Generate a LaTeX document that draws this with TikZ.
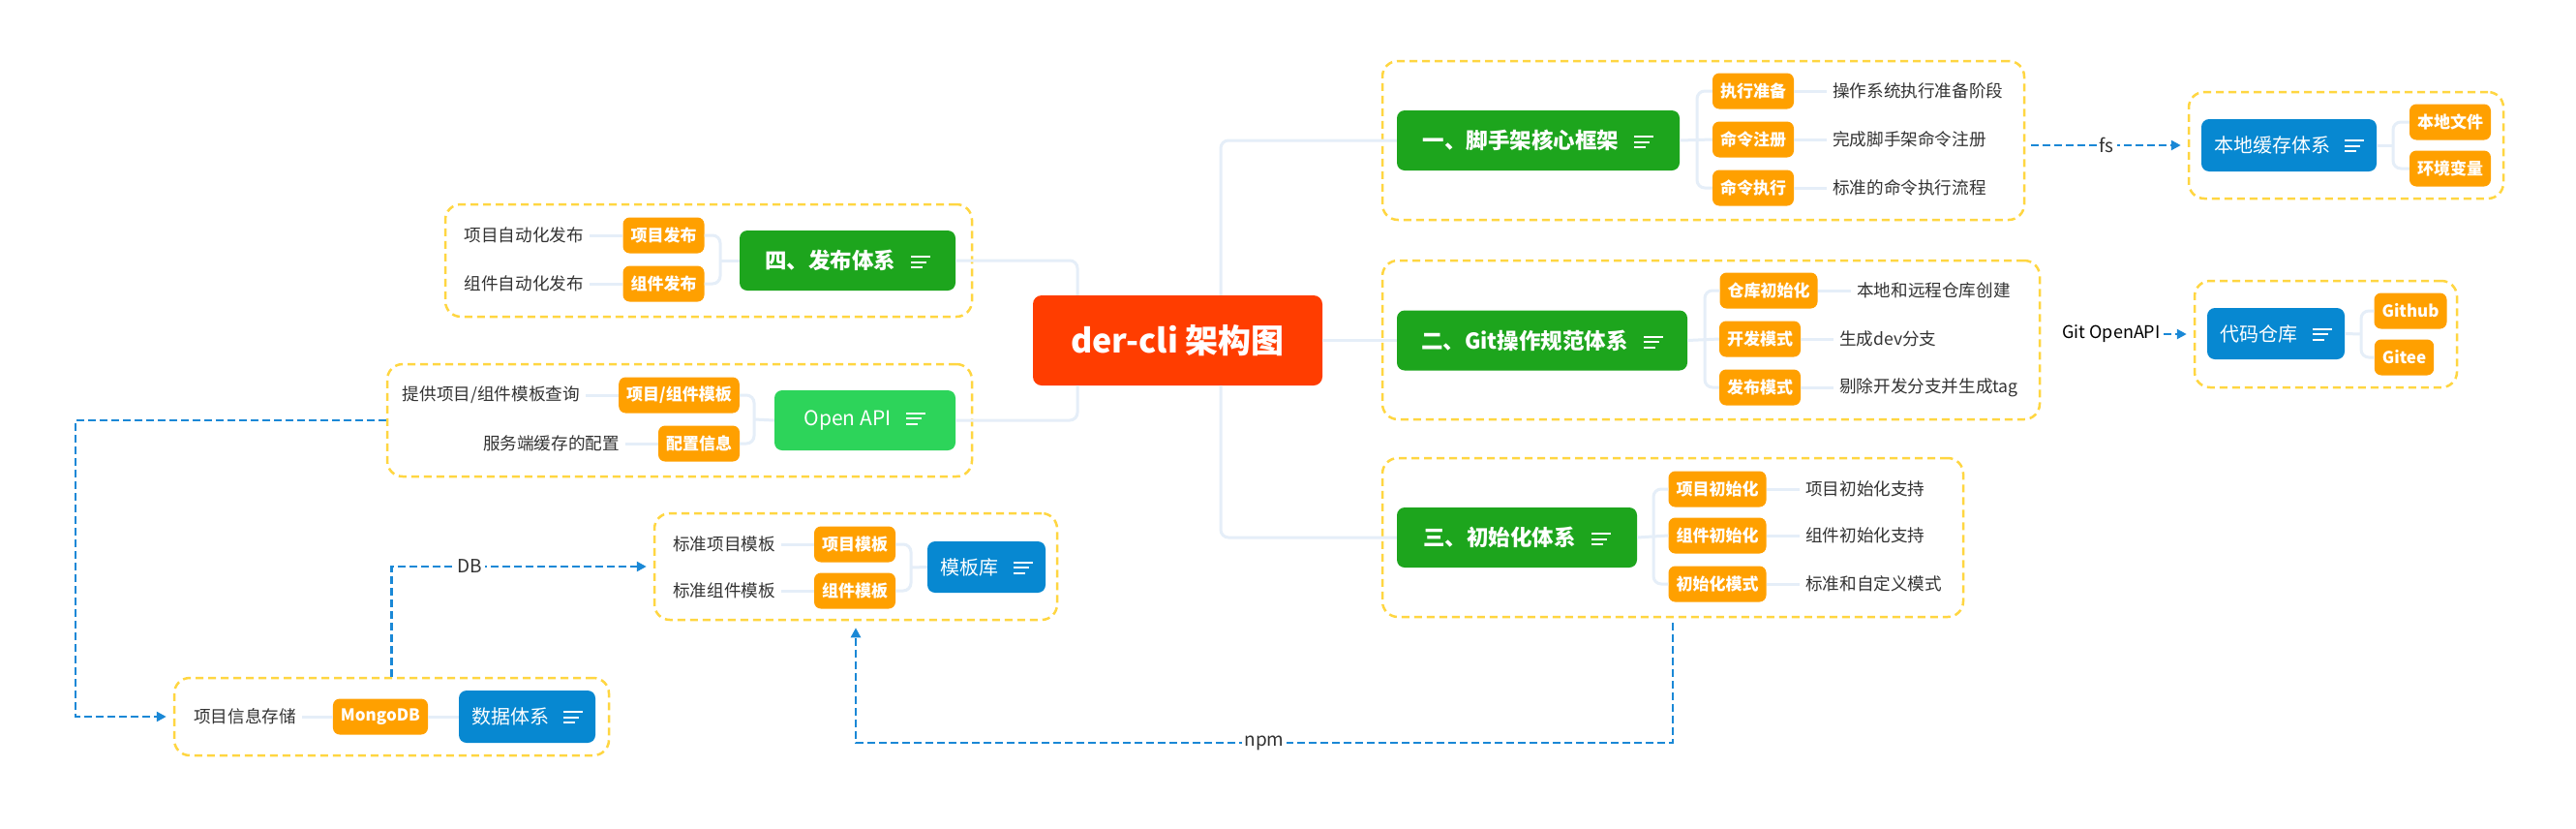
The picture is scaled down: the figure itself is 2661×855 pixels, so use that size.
\documentclass[tikz,border=0pt]{standalone}
\usepackage{fontspec}
\setmainfont{Noto Sans CJK SC}
\usetikzlibrary{arrows.meta,calc}
\definecolor{cred}{HTML}{FF3D00}
\definecolor{cgreen}{HTML}{1DA51D}
\definecolor{clgreen}{HTML}{2DD45A}
\definecolor{cblue}{HTML}{0788D1}
\definecolor{corange}{HTML}{FFA000}
\definecolor{cyel}{HTML}{FFD641}
\definecolor{clink}{HTML}{E5EEF8}
\definecolor{cflow}{HTML}{1A88D6}
\definecolor{ctext}{HTML}{333333}
\newcommand\mIcon{\raisebox{0.5pt}{\vbox{\offinterlineskip\hbox{\rule{20pt}{2pt}}\vskip3.5pt\hbox{\rule{16pt}{2pt}}\vskip3.5pt\hbox{\rule{12pt}{2pt}}}}}
\begin{document}
\begin{tikzpicture}[x=1pt,y=-1pt,
  main/.style={rounded corners=8pt, text=white, minimum height=62pt, inner xsep=0pt, font=\fontsize{22.5pt}{26pt}\selectfont\bfseries},
  sub/.style={main, fill=cblue, minimum height=54pt, font=\fontsize{20pt}{24pt}\selectfont},
  grp/.style={draw=cyel, line width=2.5pt, dash pattern=on 8pt off 5pt, rounded corners=16pt, inner sep=0pt},
  tag/.style={fill=corange, text=white, rounded corners=7pt, minimum height=37pt, inner xsep=8pt, inner ysep=0pt, font=\fontsize{17pt}{20pt}\selectfont\bfseries},
  desc/.style={text=ctext, inner sep=0pt, font=\fontsize{17.6pt}{20pt}\selectfont},
  link/.style={draw=clink, line width=3pt, rounded corners=8pt},
  flow/.style={draw=cflow, line width=2.8pt, dash pattern=on 8pt off 4pt, -{Triangle[length=10pt,width=10pt]}, shorten >=7pt},
  lbl/.style={fill=white, text=ctext, inner xsep=3pt, inner ysep=1pt, font=\fontsize{19pt}{22pt}\selectfont}
]
\fill[white] (0,0) rectangle (2661,855);
\useasboundingbox (0,0) rectangle (2661,855);

% groups
\node[grp, minimum width=663pt, minimum height=164pt] (G1) at (1759.5,145) {};
\node[grp, minimum width=679pt, minimum height=164pt] (G2) at (1767.5,351) {};
\node[grp, minimum width=600pt, minimum height=164pt] (G3) at (1728,555) {};
\node[grp, minimum width=544pt, minimum height=116pt] (G4) at (732,269) {};
\node[grp, minimum width=604pt, minimum height=116pt] (GA) at (702,434) {};
\node[grp, minimum width=325pt, minimum height=110pt] (GC) at (2423.5,150) {};
\node[grp, minimum width=271pt, minimum height=110pt] (GR) at (2402.5,345) {};
\node[grp, minimum width=416pt, minimum height=110pt] (GT) at (884,585) {};
\node[grp, minimum width=449pt, minimum height=80pt] (GD) at (404.5,740) {};

% root
\node[main, fill=cred, minimum width=299pt, minimum height=93pt, rounded corners=9pt, font=\fontsize{34pt}{40pt}\selectfont\bfseries] (root) at (1216.5,351.5) {der-cli 架构图};

% main boxes
\node[main, fill=cgreen, minimum width=292pt] (g1) at (1589,145) {一、脚手架核心框架\hspace{16pt}\mIcon};
\node[main, fill=cgreen, minimum width=300pt] (g2) at (1593,351.5) {二、Git操作规范体系\hspace{16pt}\mIcon};
\node[main, fill=cgreen, minimum width=248pt] (g3) at (1567,555) {三、初始化体系\hspace{16pt}\mIcon};
\node[main, fill=cgreen, minimum width=223pt] (g4) at (875.5,269) {四、发布体系\hspace{16pt}\mIcon};
\node[main, fill=clgreen, minimum width=187pt, font=\fontsize{21pt}{25pt}\selectfont] (api) at (893.5,434) {Open API\hspace{16pt}\mIcon};
\node[sub, minimum width=181pt] (cache) at (2364.5,150) {本地缓存体系\hspace{15pt}\mIcon};
\node[sub, minimum width=142pt, minimum height=53pt] (repo) at (2351,344.5) {代码仓库\hspace{15pt}\mIcon};
\node[sub, minimum width=122pt, minimum height=53pt] (tpl) at (1019,585.5) {模板库\hspace{15pt}\mIcon};
\node[sub, minimum width=141pt] (data) at (544.5,740) {数据体系\hspace{15pt}\mIcon};

% tags
\node[tag] (t11) at (1811,94) {执行准备};
\node[tag] (t12) at (1811,144) {命令注册};
\node[tag] (t13) at (1811,194) {命令执行};
\node[tag] (t21) at (1827,300) {仓库初始化};
\node[tag] (t22) at (1818,350) {开发模式};
\node[tag] (t23) at (1818,400) {发布模式};
\node[tag] (t31) at (1774,505) {项目初始化};
\node[tag] (t32) at (1774,553) {组件初始化};
\node[tag] (t33) at (1774,603) {初始化模式};
\node[tag] (t41) at (685.5,243) {项目发布};
\node[tag] (t42) at (685.5,293) {组件发布};
\node[tag] (ta1) at (701.5,408) {项目/组件模板};
\node[tag] (ta2) at (722,458) {配置信息};
\node[tag] (tc1) at (2531,126) {本地文件};
\node[tag] (tc2) at (2531,174) {环境变量};
\node[tag] (tr1) at (2490,321) {Github};
\node[tag] (tr2) at (2483.5,369) {Gitee};
\node[tag] (tt1) at (883,562) {项目模板};
\node[tag] (tt2) at (883,610) {组件模板};
\node[tag] (td) at (393,740) {MongoDB};

% descriptions
\node[desc, anchor=west] (d11) at (1893,94) {操作系统执行准备阶段};
\node[desc, anchor=west] (d12) at (1893,144) {完成脚手架命令注册};
\node[desc, anchor=west] (d13) at (1893,194) {标准的命令执行流程};
\node[desc, anchor=west] (d21) at (1918,300) {本地和远程仓库创建};
\node[desc, anchor=west] (d22) at (1900,350) {生成dev分支};
\node[desc, anchor=west] (d23) at (1900,400) {剔除开发分支并生成tag};
\node[desc, anchor=west] (d31) at (1865,505) {项目初始化支持};
\node[desc, anchor=west] (d32) at (1865,553) {组件初始化支持};
\node[desc, anchor=west] (d33) at (1865,603) {标准和自定义模式};
\node[desc, anchor=east] (d41) at (603,243) {项目自动化发布};
\node[desc, anchor=east] (d42) at (603,293) {组件自动化发布};
\node[desc, anchor=east] (da1) at (599,408) {提供项目/组件模板查询};
\node[desc, anchor=east] (da2) at (640,458) {服务端缓存的配置};
\node[desc, anchor=east] (dt1) at (801,562) {标准项目模板};
\node[desc, anchor=east] (dt2) at (801,610) {标准组件模板};
\node[desc, anchor=east] (dd) at (306,740) {项目信息存储};

% tree bars
\coordinate (b1) at (1753,145);
\coordinate (b2) at (1761,351.5);
\coordinate (b3) at (1708,555);
\coordinate (b4) at (744,269);
\coordinate (b5) at (779,433);
\coordinate (b6) at (2472,150);
\coordinate (b7) at (2439,345);
\coordinate (b8) at (941,586);

% root links
\draw[link] (root.east) -- (g2.west);
\draw[link] ([xshift=44.5pt]root.north) |- (g1.west);
\draw[link] ([xshift=44.5pt]root.south) |- (g3.west);
\draw[link] ([xshift=-103.5pt]root.north) |- (g4.east);
\draw[link] ([xshift=-103.5pt]root.south) |- (api.east);

% group trees
\draw[link] (g1.east) -- (t12.west);
\draw[link] (t11.west) -| (b1) |- (t13.west);
\draw[link] (g2.east) -- (t22.west);
\draw[link] (t21.west) -| (b2) |- (t23.west);
\draw[link] (g3.east) -- (t32.west);
\draw[link] (t31.west) -| (b3) |- (t33.west);
\draw[link] (g4.west) -- (b4);
\draw[link] (t41.east) -| (b4) |- (t42.east);
\draw[link] (api.west) -- (b5);
\draw[link] (ta1.east) -| (b5) |- (ta2.east);
\draw[link] (cache.east) -- (b6);
\draw[link] (tc1.west) -| (b6) |- (tc2.west);
\draw[link] (repo.east) -- (b7);
\draw[link] (tr1.west) -| (b7) |- (tr2.west);
\draw[link] (tpl.west) -- (b8);
\draw[link] (tt1.east) -| (b8) |- (tt2.east);
\draw[link] (td.east) -- (data.west);

% tag to description
\foreach \t/\d in {t11/d11,t12/d12,t13/d13,t21/d21,t22/d22,t23/d23,t31/d31,t32/d32,t33/d33}
  \draw[link, shorten >=6pt] (\t.east) -- (\d.west);
\foreach \t/\d in {t41/d41,t42/d42,ta1/da1,ta2/da2,tt1/dt1,tt2/dt2,td/dd}
  \draw[link, shorten <=6pt] (\d.east) -- (\t.west);

% flows
\draw[flow, shorten <=6pt] (G1.east |- GC.west) -- node[lbl]{fs} (GC.west);
\node[lbl, text=black, font=\fontsize{18pt}{21pt}\selectfont] (lgit) at (2181,345) {Git OpenAPI};
\draw[flow] (lgit.east) -- (GR.west);
\coordinate (c1) at (78,434);
\draw[flow] (GA.west) -- (c1) |- (GD.west);
\draw[flow] (GD.north) |- node[lbl,pos=0.65]{DB} (GT.west);
\coordinate (c2) at (1728,767);
\draw[flow, shorten <=5pt] (G3.south) -- (c2) -| node[lbl,pos=0.25]{npm} (GT.south);
\end{tikzpicture}
\end{document}
